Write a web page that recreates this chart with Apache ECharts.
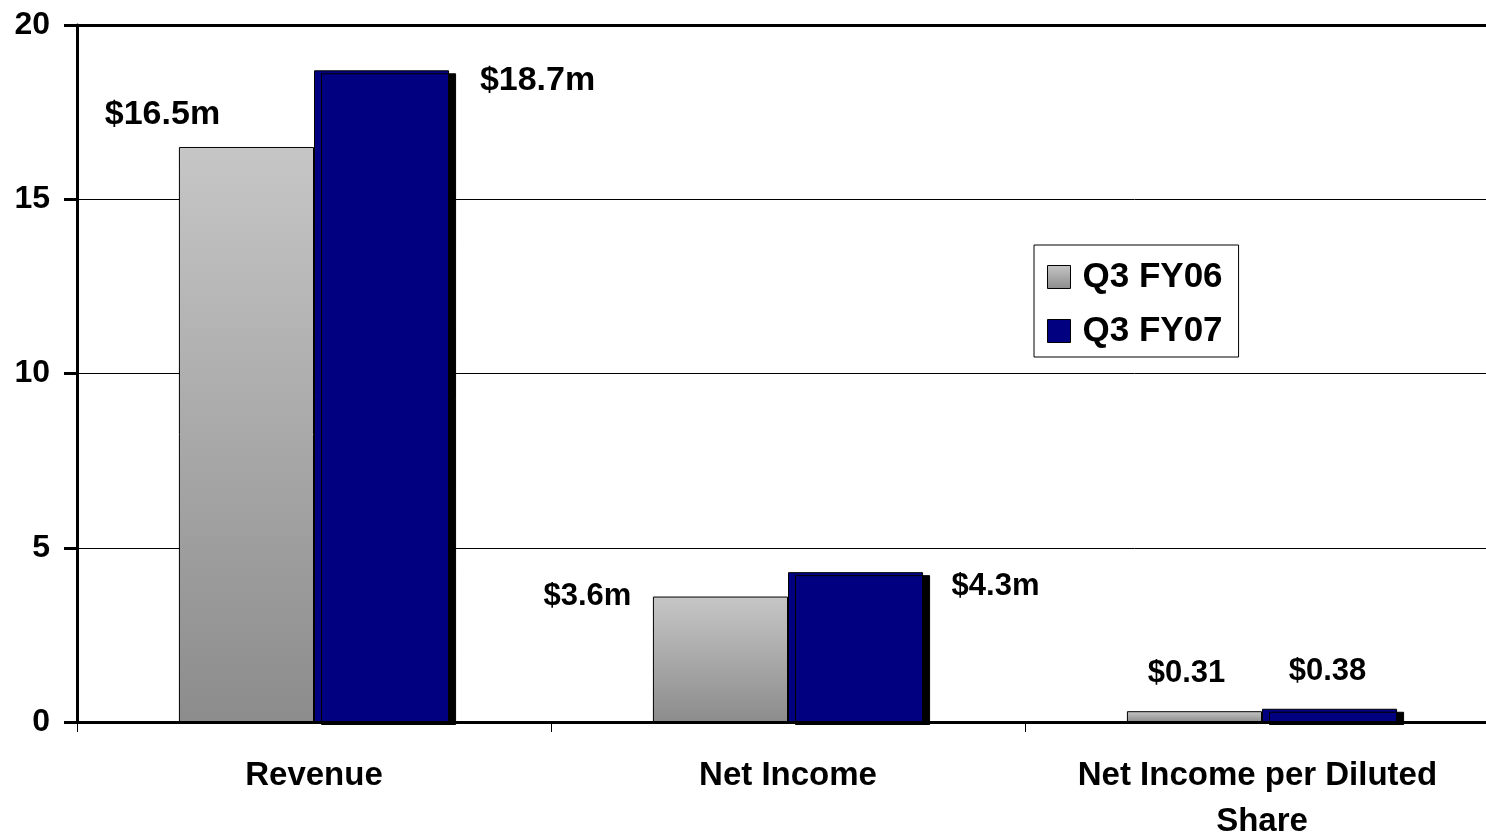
<!DOCTYPE html>
<html>
<head>
<meta charset="utf-8">
<script src="https://cdn.jsdelivr.net/npm/echarts@6/dist/echarts.min.js"></script>
<style>
  html, body { margin: 0; padding: 0; background: #ffffff; }
  #chart { width: 1486px; height: 836px; }
</style>
</head>
<body>
<div id="chart"></div>
<script>
// Quarterly results: Q3 FY06 vs Q3 FY07
const categories = ['Revenue', 'Net Income', 'Net Income per Diluted Share'];
const seriesNames = ['Q3 FY06', 'Q3 FY07'];
const fy06Values = [16.5, 3.6, 0.31];
const fy07Values = [18.7, 4.3, 0.38];
const fy06Labels = ['$16.5m', '$3.6m', '$0.31'];
const fy07Labels = ['$18.7m', '$4.3m', '$0.38'];
const yMin = 0;
const yMax = 20;
const yStep = 5;

const FONT = '"Liberation Sans", Arial, Helvetica, sans-serif';

// per-bar label placement (offset from the bar top, font size)
const fy06LabelStyle = [
  { offset: [-84, -10], size: 34 },
  { offset: [-133, 20], size: 31 },
  { offset: [-8, -17], size: 31 }
];
const fy07LabelStyle = [
  { offset: [156, 32], size: 34 },
  { offset: [140, 35], size: 31 },
  { offset: [-2, -17], size: 31 }
];

function buildData(values, labels, styles) {
  return values.map((v, i) => ({
    value: v,
    label: {
      show: true,
      position: 'top',
      distance: 5,
      offset: styles[i].offset,
      fontSize: styles[i].size,
      lineHeight: styles[i].size,
      fontWeight: 'bold',
      fontFamily: FONT,
      color: '#000',
      formatter: labels[i]
    }
  }));
}

const chart = echarts.init(document.getElementById('chart'));

chart.setOption({
  animation: false,
  backgroundColor: '#ffffff',
  grid: {
    left: 77,
    top: 25,
    width: 1422,
    height: 697,
    containLabel: false,
    outerBoundsMode: 'none'
  },
  legend: {
    data: seriesNames,
    orient: 'vertical',
    left: 1034,
    top: 245,
    padding: [14, 16, 8, 13],
    itemGap: 18,
    itemWidth: 23,
    itemHeight: 23,
    icon: 'rect',
    backgroundColor: '#ffffff',
    borderColor: '#000000',
    borderWidth: 1,
    itemStyle: {
      borderColor: '#000',
      borderWidth: 1,
      shadowBlur: 0,
      shadowOffsetX: 0,
      shadowOffsetY: 0,
      shadowColor: 'rgba(0,0,0,0)'
    },
    textStyle: {
      fontFamily: FONT,
      fontWeight: 'bold',
      fontSize: 35,
      lineHeight: 36,
      color: '#000',
      padding: [0, 0, 0, 7]
    }
  },
  xAxis: [
    {
      type: 'category',
      data: categories,
      position: 'bottom',
      axisLine: { show: true, lineStyle: { color: '#000', width: 3 } },
      axisTick: { show: true, length: 10, lineStyle: { color: '#000', width: 1 } },
      axisLabel: {
        interval: 0,
        margin: 31,
        fontFamily: FONT,
        fontWeight: 'bold',
        fontSize: 33,
        lineHeight: 46,
        color: '#000',
        width: 400,
        overflow: 'break',
        align: 'center'
      },
      splitLine: { show: false }
    },
    {
      type: 'category',
      data: categories,
      position: 'top',
      axisLine: { show: true, lineStyle: { color: '#000', width: 3 } },
      axisTick: { show: false },
      axisLabel: { show: false },
      splitLine: { show: false }
    }
  ],
  yAxis: {
    type: 'value',
    min: yMin,
    max: yMax,
    interval: yStep,
    axisLine: { show: true, lineStyle: { color: '#000', width: 3 } },
    axisTick: { show: true, length: 13, lineStyle: { color: '#000', width: 3 } },
    axisLabel: {
      margin: 27,
      fontFamily: FONT,
      fontWeight: 'bold',
      fontSize: 32,
      color: '#000'
    },
    splitLine: { show: true, lineStyle: { color: '#000', width: 1 } }
  },
  series: [
    {
      name: seriesNames[0],
      type: 'bar',
      xAxisIndex: 0,
      barGap: '0%',
      barCategoryGap: '43%',
      itemStyle: {
        color: {
          type: 'linear', x: 0, y: 0, x2: 0, y2: 1,
          colorStops: [
            { offset: 0, color: '#c6c6c6' },
            { offset: 1, color: '#8c8c8c' }
          ]
        },
        borderColor: '#000',
        borderWidth: 1
      },
      data: buildData(fy06Values, fy06Labels, fy06LabelStyle)
    },
    {
      name: seriesNames[1],
      type: 'bar',
      xAxisIndex: 0,
      barGap: '0%',
      barCategoryGap: '43%',
      itemStyle: {
        color: '#000080',
        borderColor: '#000',
        borderWidth: 1,
        shadowColor: '#000',
        shadowBlur: 0,
        shadowOffsetX: 7,
        shadowOffsetY: 3
      },
      data: buildData(fy07Values, fy07Labels, fy07LabelStyle)
    }
  ]
});
</script>
</body>
</html>
